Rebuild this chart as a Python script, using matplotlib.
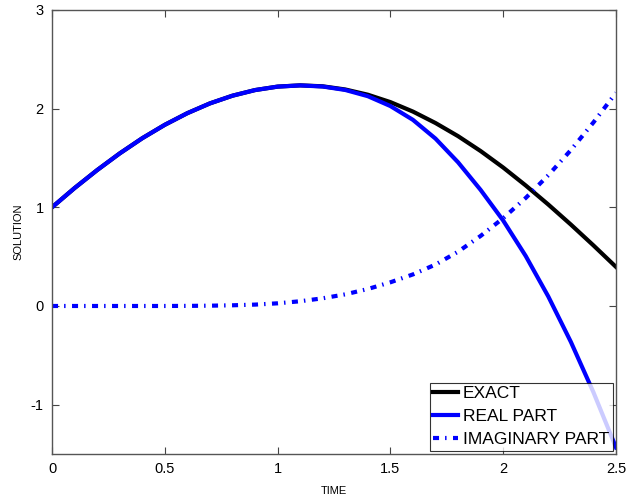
import matplotlib
matplotlib.use("Agg")
import matplotlib.pyplot as plt

plt.rcParams["font.family"] = ["Liberation Sans", "DejaVu Sans"]
plt.rcParams["axes.unicode_minus"] = False

# values (step 0.1 in time)
time = [0.0, 0.1, 0.2, 0.3, 0.4, 0.5, 0.6, 0.7, 0.8, 0.9, 1.0, 1.1, 1.2,
        1.3, 1.4, 1.5, 1.6, 1.7, 1.8, 1.9, 2.0, 2.1, 2.2, 2.3, 2.4, 2.5]
exact = [1.00, 1.195, 1.377, 1.546, 1.700, 1.836, 1.954, 2.053, 2.131, 2.188,
         2.223, 2.236, 2.226, 2.194, 2.141, 2.066, 1.970, 1.854, 1.721, 1.570,
         1.403, 1.221, 1.028, 0.825, 0.614, 0.396]
real_part = [1.00, 1.195, 1.377, 1.546, 1.700, 1.836, 1.954, 2.053, 2.131, 2.188,
             2.223, 2.235, 2.224, 2.189, 2.126, 2.026, 1.886, 1.696, 1.456, 1.176,
             0.866, 0.506, 0.096, -0.364, -0.874, -1.434]
imag_part = [0.0, 0.0, 0.0, 0.0, 0.0, 0.0, 0.001, 0.003, 0.007, 0.014, 0.027,
             0.048, 0.078, 0.118, 0.172, 0.24, 0.32, 0.42, 0.55, 0.71, 0.89, 1.095,
             1.325, 1.58, 1.86, 2.16]

fig = plt.figure(figsize=(6.29, 4.97), dpi=100)
ax = fig.add_axes([0.0827, 0.0865, 0.8966, 0.8935])

ax.plot(time, exact, color="black", lw=3, label="EXACT")
ax.plot(time, real_part, color="#0000ff", lw=3, label="REAL PART")
ax.plot(time, imag_part, color="#0000ff", lw=3, linestyle=(0, (1.45, 1.45, 0.35, 1.55)),
        label="IMAGINARY PART")

ax.set_xlim(0, 2.5)
ax.set_ylim(-1.5, 3)
ax.set_xticks([0, 0.5, 1, 1.5, 2, 2.5])
ax.set_xticklabels(["0", "0.5", "1", "1.5", "2", "2.5"])
ax.set_yticks([-1, 0, 1, 2, 3])
ax.tick_params(direction="in", top=True, right=True, length=5, width=0.8,
               labelsize=10.5, colors="#444444", labelcolor="black", pad=6)
for sp in ax.spines.values():
    sp.set_color("#555555")
    sp.set_linewidth(1)

ax.set_xlabel("TIME", fontsize=8, labelpad=7)
ax.set_ylabel("SOLUTION", fontsize=8, labelpad=5)

leg = ax.legend(loc="lower right", fontsize=12.5, frameon=True, fancybox=False,
                borderpad=0.2, labelspacing=0.45, handlelength=1.4,
                handletextpad=0.3, borderaxespad=0.2)
leg.get_frame().set_edgecolor("black")
leg.get_frame().set_linewidth(0.8)

fig.savefig("out.png", dpi=100)
